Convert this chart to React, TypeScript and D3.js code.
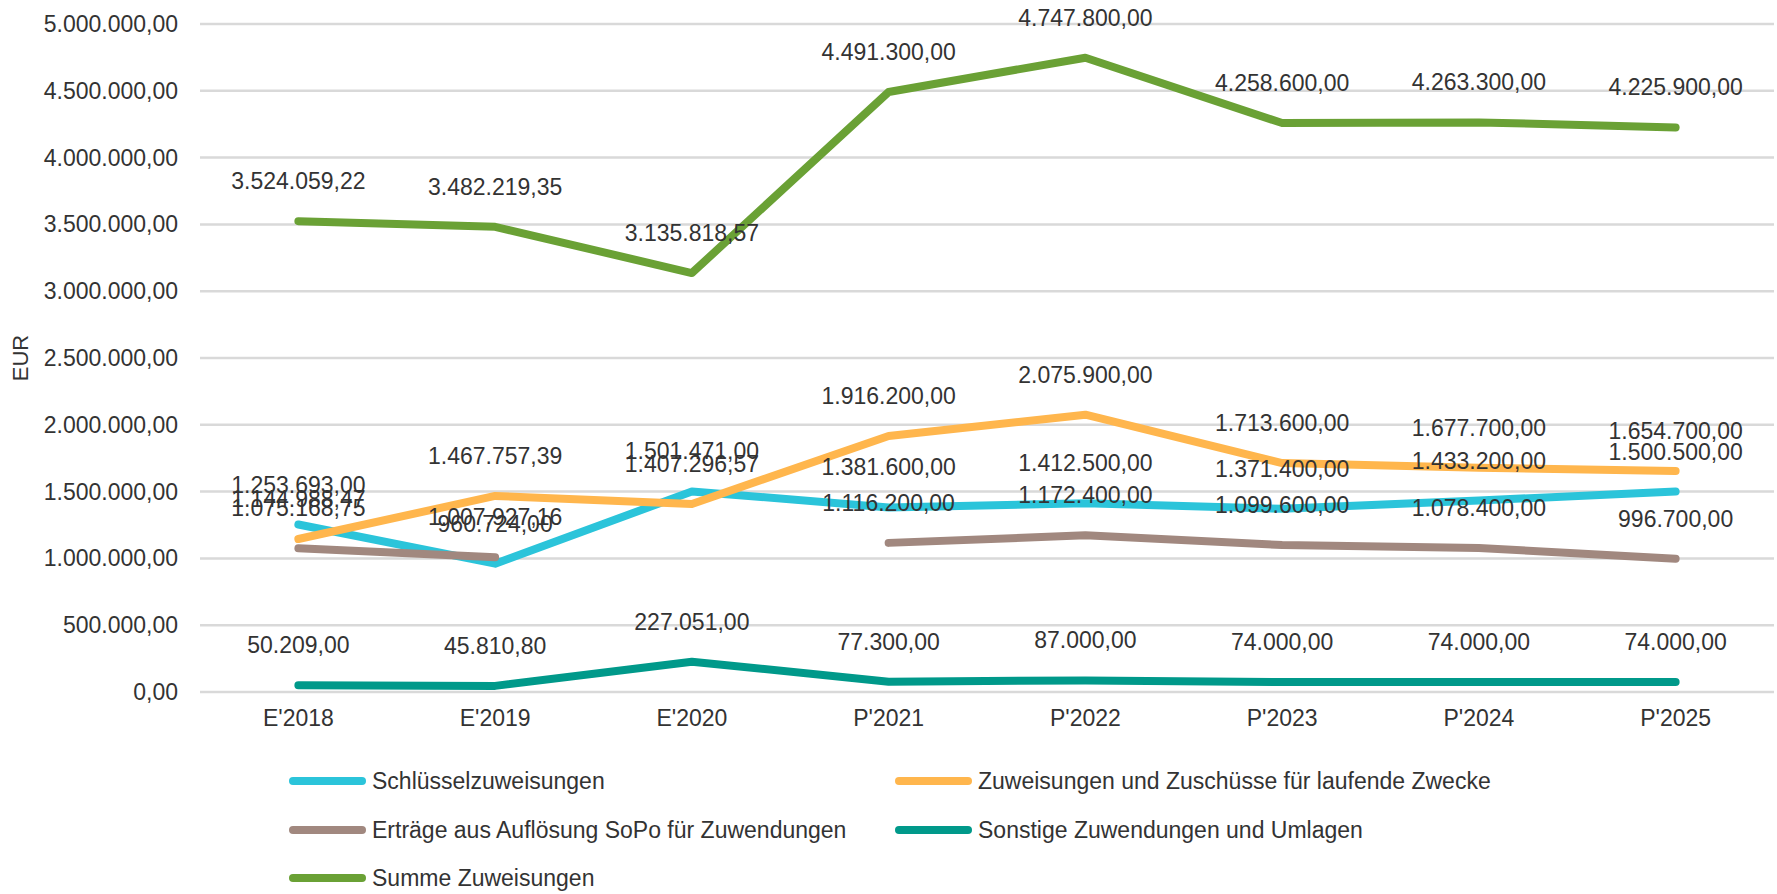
import React, { useEffect, useRef } from "react";
import * as d3 from "d3";

const categories = ["E'2018", "E'2019", "E'2020", "P'2021", "P'2022", "P'2023", "P'2024", "P'2025"];

const schluessel = [1253693.0, 960724.0, 1501471.0, 1381600, 1412500, 1371400, 1433200, 1500500];
const zuweisungenLaufend = [1144988.47, 1467757.39, 1407296.57, 1916200, 2075900, 1713600, 1677700, 1654700];
const ertraegeSoPo: (number | null)[] = [1075168.75, 1007927.16, null, 1116200, 1172400, 1099600, 1078400, 996700];
const sonstige = [50209.0, 45810.8, 227051.0, 77300, 87000, 74000, 74000, 74000];
const summe = [3524059.22, 3482219.35, 3135818.57, 4491300, 4747800, 4258600, 4263300, 4225900];

const yTicks = [0, 500000, 1000000, 1500000, 2000000, 2500000, 3000000, 3500000, 4000000, 4500000, 5000000];

const seriesNames = [
  "Schlüsselzuweisungen",
  "Zuweisungen und Zuschüsse für laufende Zwecke",
  "Erträge aus Auflösung SoPo für Zuwendungen",
  "Sonstige Zuwendungen und Umlagen",
  "Summe Zuweisungen",
];
const seriesColors = ["#2BC4DA", "#FFB64D", "#A1887F", "#00998A", "#6AA135"];

const W = 1777;
const H = 894;

const App = () => {
  const svgRef = useRef<SVGSVGElement>(null);

  useEffect(() => {
    const svg = d3.select(svgRef.current);
    svg.selectAll("*").remove();

    const font = "'Liberation Sans', Arial, sans-serif";
    const textColor = "#333333";
    const fs = 23;

    const locale = d3.formatLocale({
      decimal: ",",
      thousands: ".",
      grouping: [3],
      currency: ["", " €"],
    });
    const fmt = locale.format(",.2f");

    const margin = { top: 24, right: 3, bottom: 202, left: 200 };

    const x = d3
      .scaleBand()
      .domain(categories)
      .range([margin.left, W - margin.right]);
    const cx = (c: string) => (x(c) as number) + x.bandwidth() / 2;

    const y = d3
      .scaleLinear()
      .domain([0, 5000000])
      .range([H - margin.bottom, margin.top]);

    // gridlines
    svg
      .append("g")
      .selectAll("line")
      .data(yTicks)
      .join("line")
      .attr("x1", margin.left)
      .attr("x2", W - margin.right)
      .attr("y1", (d) => y(d))
      .attr("y2", (d) => y(d))
      .attr("stroke", "#D9D9D9")
      .attr("stroke-width", 2.5);

    // y tick labels
    svg
      .append("g")
      .selectAll("text")
      .data(yTicks)
      .join("text")
      .attr("x", 178)
      .attr("y", (d) => y(d))
      .attr("dy", "0.35em")
      .attr("text-anchor", "end")
      .style("font-family", font)
      .style("font-size", fs + "px")
      .attr("fill", textColor)
      .text((d) => fmt(d));

    // y title
    svg
      .append("text")
      .attr("transform", `translate(20,${(y(0) + y(5000000)) / 2}) rotate(-90)`)
      .attr("dy", "0.35em")
      .attr("text-anchor", "middle")
      .style("font-family", font)
      .style("font-size", "22px")
      .attr("fill", textColor)
      .text("EUR");

    // x labels
    svg
      .append("g")
      .selectAll("text")
      .data(categories)
      .join("text")
      .attr("x", (d) => cx(d))
      .attr("y", y(0) + 26)
      .attr("dy", "0.35em")
      .attr("text-anchor", "middle")
      .style("font-family", font)
      .style("font-size", fs + "px")
      .attr("fill", textColor)
      .text((d) => d);

    const allSeries = [schluessel, zuweisungenLaufend, ertraegeSoPo, sonstige, summe];

    const line = d3
      .line<number | null>()
      .defined((d) => d !== null)
      .x((_, i) => cx(categories[i]))
      .y((d) => y(d as number));

    // lines
    allSeries.forEach((vals, s) => {
      svg
        .append("path")
        .datum(vals)
        .attr("d", line)
        .attr("fill", "none")
        .attr("stroke", seriesColors[s])
        .attr("stroke-width", 8)
        .attr("stroke-linecap", "round")
        .attr("stroke-linejoin", "round");
    });

    // data labels (they overlap in places, like the original)
    allSeries.forEach((vals) => {
      vals.forEach((v, i) => {
        if (v === null) return;
        svg
          .append("text")
          .attr("x", cx(categories[i]))
          .attr("y", y(v) - 40)
          .attr("dy", "0.35em")
          .attr("text-anchor", "middle")
          .style("font-family", font)
          .style("font-size", fs + "px")
          .attr("fill", textColor)
          .text(fmt(v));
      });
    });

    // legend
    const legendPos = [
      { x: 289, y: 781 },
      { x: 895, y: 781 },
      { x: 289, y: 830 },
      { x: 895, y: 830 },
      { x: 289, y: 878 },
    ];
    seriesNames.forEach((name, s) => {
      const p = legendPos[s];
      svg
        .append("line")
        .attr("x1", p.x + 4)
        .attr("x2", p.x + 73)
        .attr("y1", p.y)
        .attr("y2", p.y)
        .attr("stroke", seriesColors[s])
        .attr("stroke-width", 8)
        .attr("stroke-linecap", "round");
      svg
        .append("text")
        .attr("x", p.x + 83)
        .attr("y", p.y)
        .attr("dy", "0.35em")
        .style("font-family", font)
        .style("font-size", fs + "px")
        .attr("fill", textColor)
        .text(name);
    });
  }, []);

  return (
    <div style={{ position: "absolute", left: 0, top: 0, width: W, height: H, background: "#fff" }}>
      <svg ref={svgRef} width={W} height={H} />
    </div>
  );
};

export default App;
